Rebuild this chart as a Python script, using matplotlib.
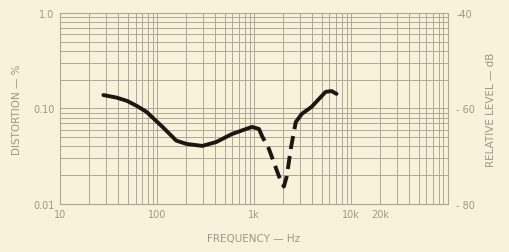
import numpy as np
import matplotlib
matplotlib.use("Agg")
import matplotlib.pyplot as plt
from matplotlib.ticker import NullFormatter, LogLocator

# distortion curve
freq_a = [28, 38, 49, 62, 78, 114, 158, 201, 293, 408, 594, 952, 1125]
dist_a = [0.138, 0.130, 0.120, 0.106, 0.092, 0.064, 0.046, 0.0425, 0.0405, 0.0445, 0.054, 0.064, 0.061]

freq_b = [1125, 1208, 1425, 1805, 2032, 2180, 2395, 2697]
dist_b = [0.061, 0.0515, 0.0377, 0.0196, 0.0152, 0.0196, 0.0377, 0.072]

freq_c = [2697, 3108, 3933, 5473, 6310, 7100]
dist_c = [0.072, 0.0875, 0.104, 0.149, 0.152, 0.142]

x_ticks = [10, 100, 1000, 10000, 20000]
x_labels = ["10", "100", "1k", "10k", "20k"]
y_ticks = [0.01, 0.1, 1.0]
y_labels = ["0.01", "0.10", "1.0"]
r_ticks = [-80, -60, -40]
r_labels = ["- 80", "- 60", "-40"]

bg = "#f8f2da"
grid_c = "#b0a897"
txt_c = "#9d978a"
ink = "#1c1712"

fig = plt.figure(figsize=(5.09, 2.53), dpi=100, facecolor=bg)
ax = fig.add_axes([0.118, 0.19, 0.762, 0.755], facecolor=bg)

ax.set_xscale("log")
ax.set_yscale("log")
ax.set_xlim(10, 100000)
ax.set_ylim(0.01, 1.0)

ax.xaxis.set_minor_locator(LogLocator(base=10, subs=np.arange(2, 10)))
ax.yaxis.set_minor_locator(LogLocator(base=10, subs=np.arange(2, 10)))
ax.xaxis.set_minor_formatter(NullFormatter())
ax.yaxis.set_minor_formatter(NullFormatter())
ax.grid(True, which="both", color=grid_c, linewidth=0.7)
ax.set_axisbelow(True)

ax.set_xticks(x_ticks)
ax.set_xticklabels(x_labels)
ax.set_yticks(y_ticks)
ax.set_yticklabels(y_labels)
ax.tick_params(which="both", length=0, labelsize=7, colors=txt_c, pad=4)
for s in ax.spines.values():
    s.set_color(grid_c)
    s.set_linewidth(0.8)

ax.plot(freq_a, dist_a, color=ink, lw=2.8, solid_capstyle="round")
ax.plot(freq_b, dist_b, color=ink, lw=2.8, dashes=(3.4, 1.8))
ax.plot(freq_c, dist_c, color=ink, lw=2.8, solid_capstyle="round")

ax2 = ax.twinx()
ax2.set_ylim(-80, -40)
ax2.set_yticks(r_ticks)
ax2.set_yticklabels(r_labels)
ax2.tick_params(length=0, labelsize=7, colors=txt_c, pad=6)
for s in ax2.spines.values():
    s.set_visible(False)

ax.set_ylabel("DISTORTION \u2014 %", fontsize=7.5, color=txt_c, labelpad=8)
ax2.set_ylabel("RELATIVE LEVEL \u2014 dB", fontsize=7.5, color=txt_c, labelpad=8)
ax.set_xlabel("FREQUENCY \u2014 Hz", fontsize=7.5, color=txt_c, labelpad=10)

fig.savefig("out.png", dpi=100, facecolor=bg)
